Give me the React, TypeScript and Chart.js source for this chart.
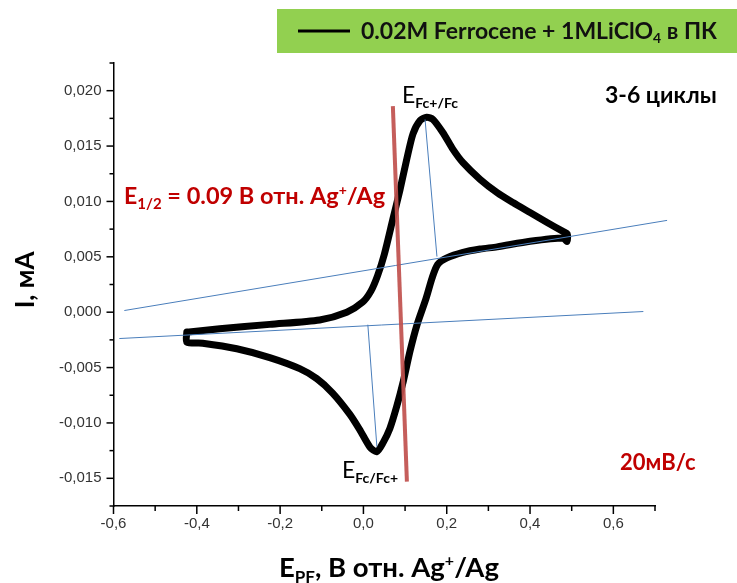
import React, { useEffect, useRef } from 'react';
import { Chart, registerables } from 'chart.js';
Chart.register(...registerables);

// Cyclic voltammogram (cycles 3-6 overlay) — potential, V
const cvX = [
  -0.424, -0.345, -0.225, -0.105, -0.040, -0.002, 0.018, 0.034, 0.050, 0.0707, 0.0875, 0.104, 0.119, 0.136, 0.152,
  0.167, 0.191, 0.215, 0.239, 0.280, 0.321, 0.359, 0.400, 0.441, 0.479, 0.489,
  0.489, 0.479, 0.400, 0.321, 0.280, 0.239, 0.2005, 0.178, 0.165, 0.150, 0.129, 0.112, 0.096, 0.080, 0.0635,
  0.047, 0.032, 0.016, -0.009, -0.033, -0.074, -0.112, -0.153, -0.225, -0.304, -0.386, -0.424, -0.424,
];
// current, mA
const cvY = [
  -0.0018, -0.0015, -0.0011, -0.0007, 0.0, 0.0009, 0.0019, 0.0033, 0.0052, 0.0084, 0.0110, 0.0138, 0.0161, 0.0173, 0.0176,
  0.0174, 0.0162, 0.0147, 0.0135, 0.0120, 0.0108, 0.0099, 0.0090, 0.0081, 0.0073, 0.0071,
  0.0064, 0.0067, 0.0064, 0.0059, 0.0057, 0.0054, 0.0049, 0.0043, 0.0031, 0.0012, -0.0011, -0.0035, -0.0062, -0.0085, -0.0105,
  -0.0118, -0.0126, -0.0122, -0.0106, -0.0092, -0.0073, -0.0060, -0.0051, -0.0041, -0.0033, -0.0028, -0.0027, -0.0018,
];

// construction lines
const upperBaseX = [-0.574, 0.729];
const upperBaseY = [0.00015, 0.00829];
const lowerBaseX = [-0.586, 0.672];
const lowerBaseY = [-0.00238, 0.00006];
const oxPeakLineX = [0.148, 0.1765];
const oxPeakLineY = [0.0174, 0.00502];
const redPeakLineX = [0.0106, 0.0323];
const redPeakLineY = [-0.00113, -0.01214];
const halfWaveX = [0.0707, 0.1044];
const halfWaveY = [0.0186, -0.0153];

const xTicks = [-0.6, -0.4, -0.2, 0, 0.2, 0.4, 0.6];
const xMinorTicks = [-0.5, -0.3, -0.1, 0.1, 0.3, 0.5, 0.7];
const yTicks = [-0.015, -0.01, -0.005, 0, 0.005, 0.01, 0.015, 0.02];
const yMinorTicks = [-0.0175, -0.0125, -0.0075, -0.0025, 0.0025, 0.0075, 0.0125, 0.0175, 0.0225];

const toPts = (xs: number[], ys: number[]) => xs.map((x, i) => ({ x, y: ys[i] }));

type Part = { t: string; size: number; dy?: number; bold?: boolean };
function drawRich(ctx: CanvasRenderingContext2D, x: number, y: number, parts: Part[], color: string, family: string) {
  ctx.fillStyle = color;
  ctx.textBaseline = 'alphabetic';
  ctx.textAlign = 'left';
  let cx = x;
  for (const p of parts) {
    ctx.font = `${p.bold === false ? 'normal' : 'bold'} ${p.size}px ${family}`;
    ctx.fillText(p.t, cx, y + (p.dy || 0));
    cx += ctx.measureText(p.t).width;
  }
}

const CAL = 'Lato, "Open Sans", sans-serif';

const decorPlugin = {
  id: 'decor',
  afterDraw(chart: any) {
    const ctx: CanvasRenderingContext2D = chart.ctx;
    const xs = chart.scales.x;
    const ys = chart.scales.y;
    const area = chart.chartArea;
    ctx.save();
    // tick marks
    ctx.strokeStyle = '#000';
    ctx.lineWidth = 1.5;
    const tick = (x1: number, y1: number, x2: number, y2: number) => {
      ctx.beginPath();
      ctx.moveTo(x1, y1);
      ctx.lineTo(x2, y2);
      ctx.stroke();
    };
    xTicks.forEach((v) => { const p = xs.getPixelForValue(v); tick(p, area.bottom, p, area.bottom + 8); });
    xMinorTicks.forEach((v) => { const p = xs.getPixelForValue(v); tick(p, area.bottom, p, area.bottom + 5); });
    yTicks.forEach((v) => { const p = ys.getPixelForValue(v); tick(area.left, p, area.left - 7, p); });
    yMinorTicks.forEach((v) => { const p = ys.getPixelForValue(v); tick(area.left, p, area.left - 4, p); });

    // legend box
    ctx.fillStyle = '#92d050';
    ctx.fillRect(277, 9, 460, 44);
    ctx.strokeStyle = '#000';
    ctx.lineWidth = 3;
    tick(298, 31, 350, 31);
    drawRich(ctx, 361, 39, [
      { t: '0.02M Ferrocene + 1MLiClO', size: 23 },
      { t: '4', size: 14, dy: 4 },
      { t: ' в ПК', size: 23 },
    ], '#111', CAL);

    drawRich(ctx, 605, 103, [{ t: '3-6 циклы', size: 23 }], '#000', CAL);
    drawRich(ctx, 620, 470, [{ t: '20мВ/с', size: 22 }], '#c00000', CAL);

    drawRich(ctx, 124, 204, [
      { t: 'E', size: 23 },
      { t: '1/2', size: 15, dy: 5 },
      { t: ' = 0.09 В отн. Ag', size: 23.5 },
      { t: '+', size: 14, dy: -9 },
      { t: '/Ag', size: 23.5 },
    ], '#c00000', CAL);

    drawRich(ctx, 402, 103, [
      { t: 'E', size: 23, bold: false },
      { t: 'Fc+/Fc', size: 14, dy: 5 },
    ], '#000', CAL);
    drawRich(ctx, 342, 478, [
      { t: 'E', size: 23, bold: false },
      { t: 'Fc/Fc+', size: 14, dy: 5 },
    ], '#000', CAL);

    // axis titles
    drawRich(ctx, 279, 577, [
      { t: 'E', size: 27.5 },
      { t: 'PF', size: 17, dy: 6 },
      { t: ', В отн. Ag', size: 27.5 },
      { t: '+', size: 16, dy: -11 },
      { t: '/Ag', size: 27.5 },
    ], '#000', CAL);

    ctx.translate(34, 280);
    ctx.rotate(-Math.PI / 2);
    ctx.font = `bold 26px ${CAL}`;
    ctx.fillStyle = '#000';
    ctx.textAlign = 'center';
    ctx.textBaseline = 'alphabetic';
    ctx.fillText('I, мА', 0, 0);
    ctx.restore();
  },
};

const fmt = (v: number, d: number) => {
  const s = Math.abs(v) < 1e-9 ? (0).toFixed(d) : v.toFixed(d);
  return s.replace('.', ',');
};

export default function App() {
  const ref = useRef<HTMLCanvasElement>(null);
  useEffect(() => {
    if (!ref.current) return;
    const tickFont = { family: '"Liberation Sans", Arial, sans-serif', size: 15 };
    const chart = new Chart(ref.current, {
      type: 'scatter',
      data: {
        datasets: [
          { data: toPts(halfWaveX, halfWaveY), showLine: true, borderColor: 'rgba(192,80,77,0.92)', borderWidth: 4, pointRadius: 0, clip: false } as any,
          { data: toPts(upperBaseX, upperBaseY), showLine: true, borderColor: '#4a7ebb', borderWidth: 1, pointRadius: 0, clip: false } as any,
          { data: toPts(lowerBaseX, lowerBaseY), showLine: true, borderColor: '#4a7ebb', borderWidth: 1, pointRadius: 0, clip: false } as any,
          { data: toPts(oxPeakLineX, oxPeakLineY), showLine: true, borderColor: '#4a7ebb', borderWidth: 1, pointRadius: 0 } as any,
          { data: toPts(redPeakLineX, redPeakLineY), showLine: true, borderColor: '#4a7ebb', borderWidth: 1, pointRadius: 0 } as any,
          { data: toPts(cvX, cvY), showLine: true, borderColor: '#000', borderWidth: 7, pointRadius: 0, tension: 0.25, borderJoinStyle: 'round', borderCapStyle: 'round' } as any,
        ],
      },
      options: {
        animation: false,
        responsive: false,
        maintainAspectRatio: false,
        devicePixelRatio: 1,
        layout: { padding: { top: 63, right: 82, left: 0, bottom: 0 } },
        plugins: { legend: { display: false }, tooltip: { enabled: false } },
        scales: {
          x: {
            type: 'linear',
            min: -0.6,
            max: 0.7,
            afterBuildTicks: (s: any) => { s.ticks = xTicks.map((v) => ({ value: v })); },
            afterFit: (s: any) => { s.height = 77; },
            grid: { display: false, drawTicks: false },
            border: { display: true, color: '#000', width: 1.5 },
            ticks: { padding: 9, font: tickFont, color: '#333', maxRotation: 0, callback: (v: any) => fmt(Number(v), 1) },
          },
          y: {
            type: 'linear',
            min: -0.0175,
            max: 0.0225,
            afterBuildTicks: (s: any) => { s.ticks = yTicks.map((v) => ({ value: v })); },
            afterFit: (s: any) => { s.width = 113.5; },
            grid: { display: false, drawTicks: false },
            border: { display: true, color: '#000', width: 1.5 },
            ticks: { padding: 12, font: tickFont, color: '#333', callback: (v: any) => fmt(Number(v), 3) },
          },
        },
      },
      plugins: [decorPlugin],
    } as any);
    return () => chart.destroy();
  }, []);
  return (
    <div style={{ position: 'absolute', left: 0, top: 0, width: 737, height: 583, background: '#fff' }}>
      <canvas ref={ref} width={737} height={583} style={{ width: 737, height: 583, display: 'block' }} />
    </div>
  );
}
